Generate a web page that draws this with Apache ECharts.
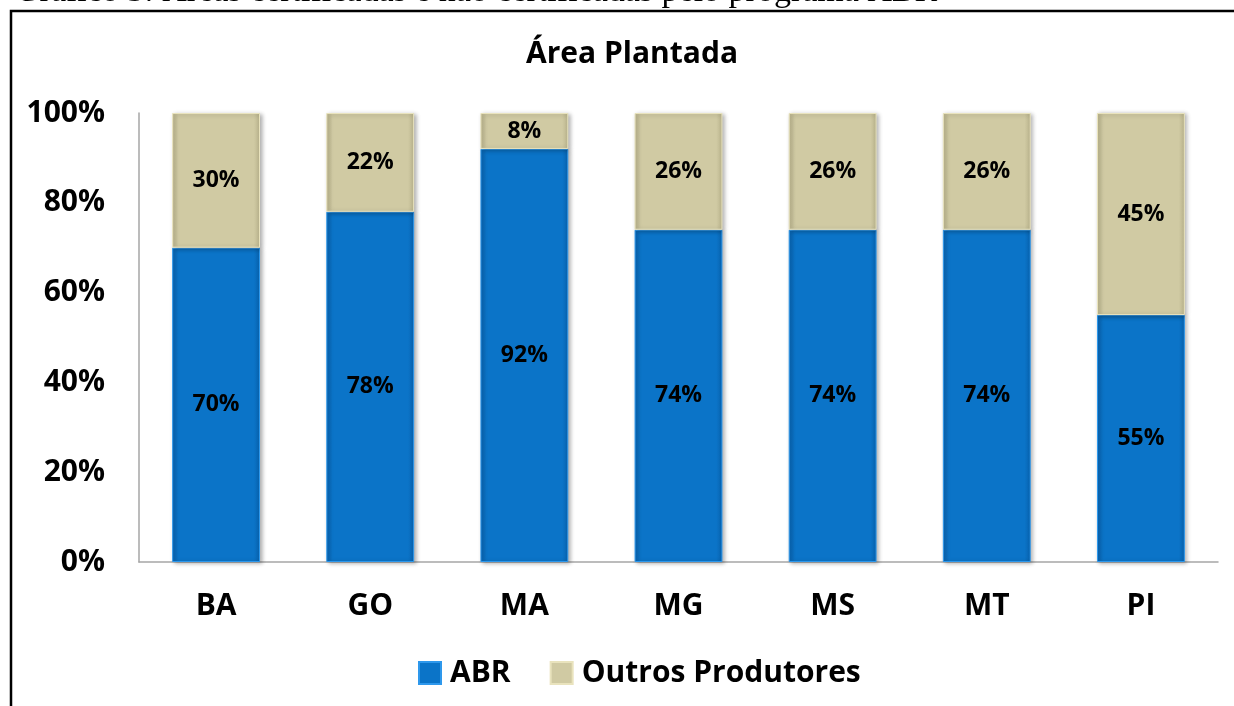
<!DOCTYPE html>
<html>
<head>
<meta charset="utf-8">
<title>Área Plantada</title>
<script src="https://cdn.jsdelivr.net/npm/echarts@6/dist/echarts.min.js"></script>
<style>
  html, body { margin: 0; padding: 0; background: #fff; }
  #main { width: 1234px; height: 706px; }
</style>
</head>
<body>
<div id="main"></div>
<script>
// estados
var categories = ["BA", "GO", "MA", "MG", "MS", "MT", "PI"];
// % da área plantada
var abrValues = [70, 78, 92, 74, 74, 74, 55];
var outrosValues = [30, 22, 8, 26, 26, 26, 45];
var yTicks = [0, 20, 40, 60, 80, 100];

var FONT = "Open Sans";

function bevel(base, edge) {
  return {
    type: "linear", x: 0, y: 0, x2: 1, y2: 0,
    colorStops: [
      { offset: 0, color: edge },
      { offset: 0.07, color: base },
      { offset: 0.93, color: base },
      { offset: 1, color: edge }
    ]
  };
}

var chartDom = document.getElementById("main");
var myChart = echarts.init(chartDom);

var labelStyle = {
  show: true,
  position: "inside",
  formatter: "{c}%",
  color: "#000",
  fontFamily: FONT,
  fontWeight: "bold",
  fontSize: 23
};

var option = {
  backgroundColor: "#fff",
  animation: false,
  title: {
    text: "Área Plantada",
    left: 627,
    textAlign: "center",
    top: 34,
    textStyle: { fontFamily: FONT, fontWeight: "bold", fontSize: 30, color: "#000" }
  },
  graphic: [
    {
      type: "rect",
      shape: { x: 11, y: 11, width: 1400, height: 900 },
      style: { fill: "none", stroke: "#000", lineWidth: 2.5 }
    },
    {
      type: "text",
      x: 15,
      y: -25,
      style: {
        text: "Gráfico 3: Áreas certificadas e não certificadas pelo programa ABR",
        font: "34px 'Liberation Serif'",
        fill: "#000"
      }
    }
  ],
  legend: {
    data: ["ABR", "Outros Produtores"],
    left: 413,
    top: 653,
    icon: "rect",
    itemWidth: 22,
    itemHeight: 22,
    itemGap: 39,
    textStyle: {
      fontFamily: FONT, fontWeight: "bold", fontSize: 30, color: "#000",
      padding: [0, 0, 0, 4]
    }
  },
  grid: { left: 139, right: 16, top: 113, bottom: 144 },
  xAxis: {
    type: "category",
    data: categories,
    axisLine: { lineStyle: { color: "#A6A6A6", width: 1.5 } },
    axisTick: { show: false },
    axisLabel: {
      margin: 29,
      color: "#000",
      fontFamily: FONT,
      fontWeight: "bold",
      fontSize: 30
    }
  },
  yAxis: {
    type: "value",
    min: yTicks[0],
    max: yTicks[yTicks.length - 1],
    interval: 20,
    axisLine: { show: true, lineStyle: { color: "#A6A6A6", width: 1.5 } },
    axisTick: { show: false },
    splitLine: { show: false },
    axisLabel: {
      margin: 34,
      formatter: "{value}%",
      color: "#000",
      fontFamily: FONT,
      fontWeight: "bold",
      fontSize: 30
    }
  },
  series: [
    {
      name: "ABR",
      type: "bar",
      stack: "total",
      barWidth: "57%",
      data: abrValues,
      label: labelStyle,
      itemStyle: {
        color: bevel("#0B74C8", "#0862AE"),
        borderColor: "#2E98EC",
        borderWidth: 1,
        shadowColor: "rgba(0,0,0,0.3)",
        shadowBlur: 4,
        shadowOffsetX: 2,
        shadowOffsetY: 1
      }
    },
    {
      name: "Outros Produtores",
      type: "bar",
      stack: "total",
      data: outrosValues,
      label: labelStyle,
      itemStyle: {
        color: bevel("#D0CAA3", "#B9B38C"),
        borderColor: "#E9E3BD",
        borderWidth: 1,
        shadowColor: "rgba(0,0,0,0.3)",
        shadowBlur: 4,
        shadowOffsetX: 2,
        shadowOffsetY: 1
      }
    }
  ]
};

option && myChart.setOption(option);
</script>
</body>
</html>
